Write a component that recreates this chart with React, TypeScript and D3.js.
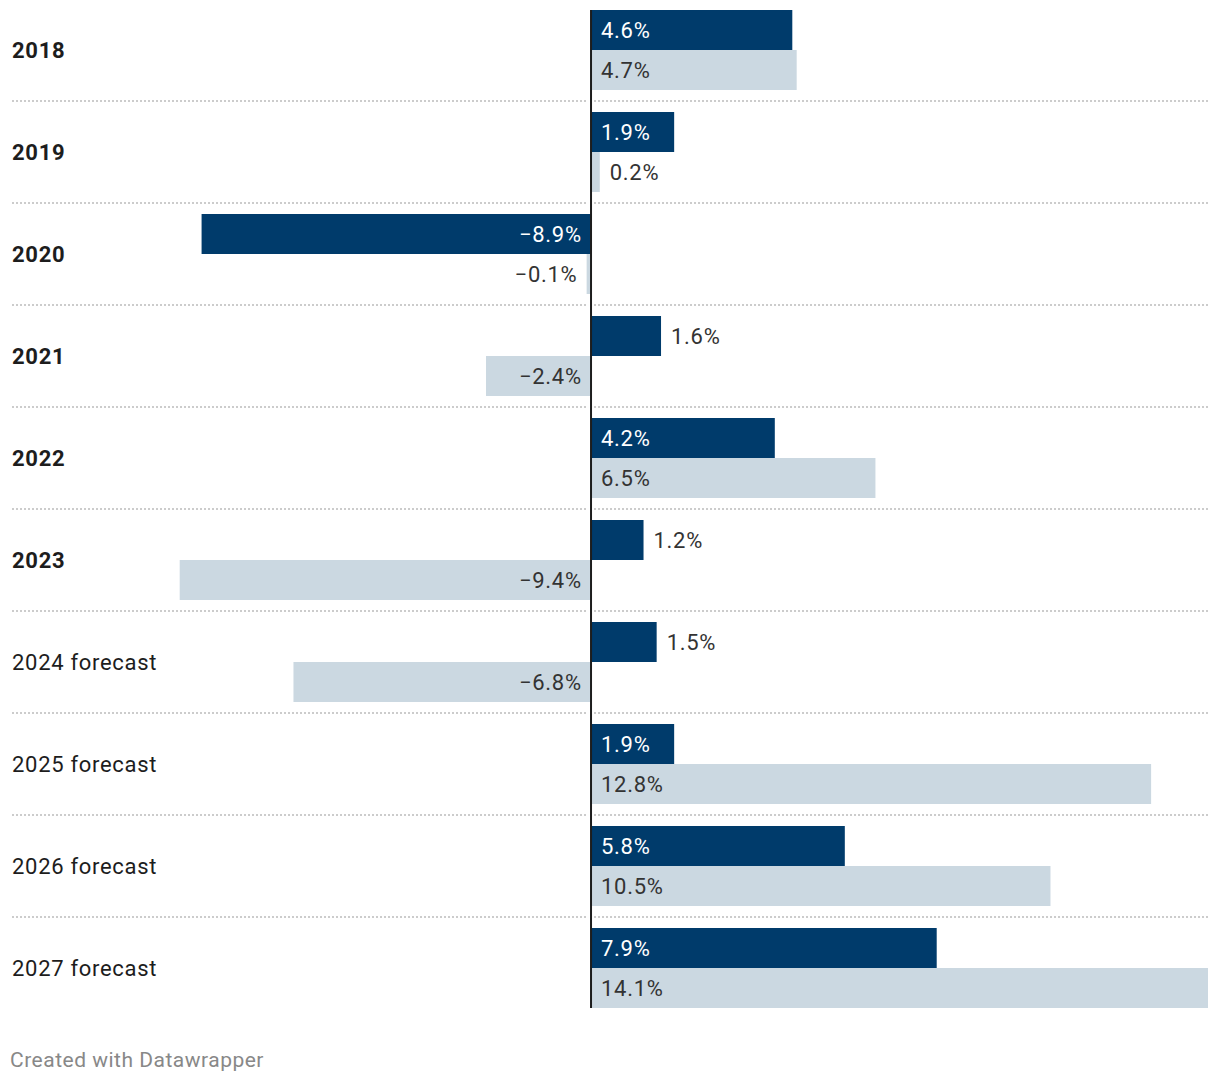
import { useEffect, useRef } from 'react';
import * as d3 from 'd3';

const years = ['2018', '2019', '2020', '2021', '2022', '2023', '2024 forecast', '2025 forecast', '2026 forecast', '2027 forecast'];
const forecast = [false, false, false, false, false, false, true, true, true, true];
const seriesA = [4.6, 1.9, -8.9, 1.6, 4.2, 1.2, 1.5, 1.9, 5.8, 7.9];
const seriesB = [4.7, 0.2, -0.1, -2.4, 6.5, -9.4, -6.8, 12.8, 10.5, 14.1];

const DARK = '#003b6b';
const LIGHT = '#cbd8e1';
const FONT = 'Roboto, "Open Sans", sans-serif';
const LS = 0.7;
const FS = '22px';

export default function App() {
  const svgRef = useRef<SVGSVGElement>(null);

  useEffect(() => {
    if (!svgRef.current) return;
    const width = 1220;
    const height = 1084;
    const svg = d3.select(svgRef.current);
    svg.selectAll('*').remove();
    svg.attr('width', width).attr('height', height);

    const x = d3.scaleLinear().domain([-9.4, 14.1]).range([179.7, 1208]);
    const x0 = x(0);

    const rowStep = 102;
    const barH = 40;
    const top0 = 10;
    const y = (i: number) => top0 + i * rowStep;

    const fmt = (v: number) => (v < 0 ? '\u2212' : '') + Math.abs(v).toFixed(1) + '%';

    // separators
    const sep = svg.append('g');
    years.slice(0, -1).forEach((_, i) => {
      const yy = y(i) + 91;
      [[12, x0 - 3], [x0 + 3, 1208]].forEach(([a, b]) => {
        sep.append('line')
          .attr('x1', a).attr('x2', b)
          .attr('y1', yy).attr('y2', yy)
          .style('stroke', '#cccccc')
          .style('stroke-width', 2)
          .style('stroke-dasharray', '2,2');
      });
    });

    // row labels
    svg.append('g')
      .selectAll('text')
      .data(years)
      .enter()
      .append('text')
      .attr('x', 12)
      .attr('y', (_, i) => y(i) + barH)
      .attr('dy', '0.35em')
      .text(d => d)
      .style('font-family', FONT)
      .style('font-size', FS)
      .style('letter-spacing', `${LS}px`)
      .style('font-weight', (_, i) => (forecast[i] ? 400 : 700))
      .style('fill', '#1d1d1d');

    const series = [
      { values: seriesA, color: DARK, inText: '#ffffff', offset: 0 },
      { values: seriesB, color: LIGHT, inText: '#333333', offset: barH },
    ];

    series.forEach(s => {
      const g = svg.append('g');
      s.values.forEach((v, i) => {
        const x1 = Math.min(x(v), x0);
        const w = Math.abs(x(v) - x0);
        const top = y(i) + s.offset;
        g.append('rect')
          .attr('x', x1).attr('y', top)
          .attr('width', w).attr('height', barH)
          .style('fill', s.color);
        const inside = w >= 75;
        const neg = v < 0;
        const base = inside ? x0 : x(v);
        const tx = neg ? base - 10 + LS : base + 10;
        g.append('text')
          .attr('x', tx)
          .attr('y', top + barH / 2)
          .attr('dy', '0.35em')
          .attr('text-anchor', neg ? 'end' : 'start')
          .text(fmt(v))
          .style('font-family', FONT)
          .style('font-size', FS)
          .style('letter-spacing', `${LS}px`)
          .style('fill', inside ? s.inText : '#333333');
      });
    });

    // zero axis
    svg.append('line')
      .attr('x1', x0).attr('x2', x0)
      .attr('y1', top0).attr('y2', y(years.length - 1) + barH * 2)
      .style('stroke', '#1d1d1d')
      .style('stroke-width', 2);

    svg.append('text')
      .attr('x', 10)
      .attr('y', 1060)
      .attr('dy', '0.35em')
      .text('Created with Datawrapper')
      .style('font-family', FONT)
      .style('font-size', '21px')
      .style('letter-spacing', '0.5px')
      .style('fill', '#888888');
  }, []);

  return (
    <div style={{ position: 'absolute', left: 0, top: 0 }}>
      <svg ref={svgRef} style={{ display: 'block' }} />
    </div>
  );
}
